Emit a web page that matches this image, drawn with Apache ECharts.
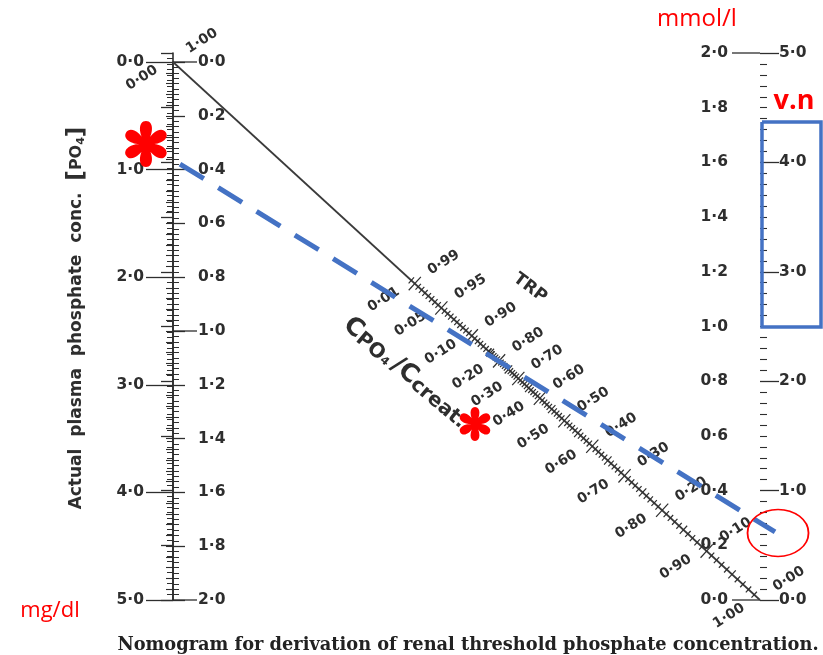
<!DOCTYPE html>
<html><head><meta charset="utf-8">
<script src="https://cdn.jsdelivr.net/npm/echarts@6/dist/echarts.min.js"></script>
<style>html,body{margin:0;padding:0;background:#fff}#c{width:823px;height:655px}</style>
</head><body><div id="c"></div>
<script>
// ---------- scale definitions ----------
const mgRange = [0, 5];          // mg/dl scale (both outer scales)
const mmolRange = [0, 2];        // mmol/l scale (both outer scales)
const mgInterval = 1;
const mmolInterval = 0.2;
const leftMmolLeaders = [0, 1.0, 2.0];
const rightMmolLeaders = [0, 2.0];

// diagonal scale: TRP labels (CPO4/Ccreat = 1 - TRP on the other side)
const trpLabels = [0.99, 0.95, 0.90, 0.80, 0.70, 0.60, 0.50, 0.40, 0.30, 0.20, 0.10, 0.00];
const cornerTrpLabel = [1.00];   // printed at the origin of the diagonal
const trpMinorFine = [0.995,0.99,0.985,0.98,0.975,0.97,0.965,0.96,0.955,0.95,0.945,0.94,0.935,0.93,0.925,0.92,0.915,0.91,0.905,0.90,0.895,0.89,0.885,0.88,0.875,0.87,0.865];
const trpMinorCoarse = [];
for (let i = 86; i >= 1; i--) trpMinorCoarse.push(i / 100);
const diagLine = [[0, 0], [1, 5]];

// annotations (nomogram coordinates: x = 0 at left scale, 1 at right scale; y = mg/dl on left scale)
const dashedLine = [[0.0119, 0.948], [1.0256, 4.368]];
const boxCorners = [[1.0034, 0.5576], [1.1039, 0.5576], [1.1039, 2.4628], [1.0034, 2.4628], [1.0034, 0.5576]];
const bigStar = [[-0.046, 0.762]];
const smallStar = [[0.5145, 3.364]];
const circleMark = [[1.0307, 4.377]];
const annotXRange = [-0.25, 1.15];

// ---------- helpers ----------
const dot1 = v => (Math.round(v * 10) / 10).toFixed(1).replace('.', '·');
const dot2 = v => (Math.round(v * 100) / 100).toFixed(2).replace('.', '·');
function scalePos(trp) {
  if (trp >= 1) return 0;
  const a = trp > 0.86 ? 0.3 * trp / (1 - 0.8 * trp) : trp;
  return 1 / (1 + a);
}
function starPath() {
  const parts = [];
  const w = 0.34;
  const pts = [[0,0],[-w,-0.42],[-w*1.05,-1],[0,-1],[w*1.05,-1],[w,-0.42],[0,0]];
  for (let k = 0; k < 6; k++) {
    const t = k * Math.PI / 3, c = Math.cos(t), s = Math.sin(t);
    const r = pts.map(p => [(p[0]*c - p[1]*s)*50 + 50, (p[0]*s + p[1]*c)*50 + 50].map(n => n.toFixed(2)).join(' '));
    parts.push('M' + r[0] + ' C' + r[1] + ' ' + r[2] + ' ' + r[3] + ' C' + r[4] + ' ' + r[5] + ' ' + r[6] + ' Z');
  }
  return 'path://' + parts.join(' ');
}

const INK = '#2e2e2e';
const LBL = {fontFamily: 'DejaVu Sans', fontWeight: 'bold', fontSize: 15.5, color: INK};
const axisLineStyle = {color: INK, width: 1.6};

const GL = 173, GW = 587;   // pixel frame of the nomogram
const chart = echarts.init(document.getElementById('c'), null, {renderer: 'canvas'});

function perp(api) {
  const a = api.coord([0, 0]), b = api.coord([1, 5]);
  const dx = b[0] - a[0], dy = b[1] - a[1], L = Math.hypot(dx, dy);
  return [dy / L, -dx / L];
}

const diagTickValues = trpMinorFine.concat(trpMinorCoarse);

const option = {
  backgroundColor: '#ffffff',
  animation: false,
  grid: [
    {left: GL, top: 62, width: GW, height: 538, outerBoundsMode: 'none', containLabel: false},
    {left: GL, top: 53, width: GW, height: 547, outerBoundsMode: 'none', containLabel: false},
    {left: GL + annotXRange[0] * GW, top: 62, width: (annotXRange[1] - annotXRange[0]) * GW, height: 538, outerBoundsMode: 'none', containLabel: false}
  ],
  xAxis: [
    {gridIndex: 0, type: 'value', min: 0, max: 1, show: false},
    {gridIndex: 1, type: 'value', min: 0, max: 1, show: false},
    {gridIndex: 2, type: 'value', min: annotXRange[0], max: annotXRange[1], show: false}
  ],
  yAxis: [
    { // left mg/dl
      gridIndex: 0, type: 'value', position: 'left', inverse: true,
      min: mgRange[0], max: mgRange[1], interval: mgInterval,
      axisLine: {show: true, lineStyle: axisLineStyle},
      axisTick: {show: true, length: 27, lineStyle: {color: INK, width: 1.3}},
      minorTick: {show: true, splitNumber: 10, length: 7, lineStyle: {color: INK, width: 1.1}},
      axisLabel: Object.assign({margin: 29, formatter: dot1}, LBL),
      splitLine: {show: false}, minorSplitLine: {show: false}
    },
    { // left mmol/l
      gridIndex: 0, type: 'value', position: 'left', inverse: true,
      min: mmolRange[0], max: mmolRange[1], interval: mmolInterval,
      axisLine: {show: false},
      axisTick: {show: true, inside: true, length: 12, lineStyle: {color: INK, width: 1.3}},
      minorTick: {show: true, splitNumber: 10, length: 6, lineStyle: {color: INK, width: 1}},
      axisLabel: Object.assign({inside: true, margin: 25, formatter: dot1}, LBL),
      splitLine: {show: false}, minorSplitLine: {show: false}
    },
    { // right mmol/l
      gridIndex: 1, type: 'value', position: 'right',
      min: mmolRange[0], max: mmolRange[1], interval: mmolInterval,
      axisLine: {show: true, lineStyle: axisLineStyle},
      axisTick: {show: true, inside: true, length: 12, lineStyle: {color: INK, width: 1.3}},
      minorTick: {show: true, splitNumber: 10, length: 6, lineStyle: {color: INK, width: 1}},
      axisLabel: Object.assign({inside: true, margin: 32, formatter: dot1}, LBL),
      splitLine: {show: false}, minorSplitLine: {show: false}
    },
    { // right mg/dl
      gridIndex: 1, type: 'value', position: 'right',
      min: mgRange[0], max: mgRange[1], interval: mgInterval,
      axisLine: {show: false},
      axisTick: {show: true, length: 19, lineStyle: {color: INK, width: 1.3}},
      minorTick: {show: true, splitNumber: 10, length: 7, lineStyle: {color: INK, width: 1.1}},
      axisLabel: Object.assign({margin: 19, formatter: dot1}, LBL),
      splitLine: {show: false}, minorSplitLine: {show: false}
    },
    { // annotation frame (hidden), same vertical mapping as left mg/dl scale
      gridIndex: 2, type: 'value', inverse: true, min: mgRange[0], max: mgRange[1], show: false
    }
  ],
  series: [
    {
      type: 'line', name: 'diagonal', xAxisIndex: 0, yAxisIndex: 0, data: diagLine,
      symbol: 'none', silent: true, lineStyle: {color: '#3a3a3a', width: 1.7}, z: 2
    },
    {
      type: 'custom', name: 'diagTicks', xAxisIndex: 0, yAxisIndex: 0, silent: true, z: 3,
      data: diagTickValues.map(v => [v]),
      renderItem: function (params, api) {
        const v = api.value(0), s = scalePos(v);
        const p = api.coord([s, 5 * s]);
        const n = perp(api);
        const r = Math.round(v * 1000);
        const isLab = trpLabels.some(t => Math.round(t * 1000) === r);
        const len = isLab ? 9 : (r % 50 === 0 ? 5.5 : 4);
        return {type: 'line', shape: {x1: p[0] - n[0]*len, y1: p[1] - n[1]*len, x2: p[0] + n[0]*len, y2: p[1] + n[1]*len},
          style: {stroke: INK, lineWidth: 1.2}};
      }
    },
    {
      type: 'custom', name: 'diagLabels', xAxisIndex: 0, yAxisIndex: 0, silent: true, z: 3,
      data: trpLabels.concat(cornerTrpLabel).map(v => [v]),
      renderItem: function (params, api) {
        const v = api.value(0), s = scalePos(v);
        const p = api.coord([s, 5 * s]);
        const rot = 32 * Math.PI / 180;
        const st = {fontFamily: 'DejaVu Sans', fontWeight: 'bold', fontSize: 14, fill: INK, align: 'center', verticalAlign: 'middle'};
        return {type: 'group', children: [
          {type: 'text', x: p[0] + 29, y: p[1] - 21, rotation: rot, style: Object.assign({text: dot2(v)}, st)},
          {type: 'text', x: p[0] - 31, y: p[1] + 16, rotation: rot, style: Object.assign({text: dot2(1 - v)}, st)}
        ]};
      }
    },
    {
      type: 'custom', name: 'leftLeaders', xAxisIndex: 0, yAxisIndex: 1, silent: true,
      data: leftMmolLeaders.map(v => [0, v]),
      renderItem: function (params, api) {
        const p = api.coord([0, api.value(1)]);
        return {type: 'line', shape: {x1: p[0], y1: p[1], x2: p[0] + 24, y2: p[1]}, style: {stroke: INK, lineWidth: 1.3}};
      }
    },
    {
      type: 'custom', name: 'rightLeaders', xAxisIndex: 1, yAxisIndex: 2, silent: true,
      data: rightMmolLeaders.map(v => [1, v]),
      renderItem: function (params, api) {
        const p = api.coord([1, api.value(1)]);
        return {type: 'line', shape: {x1: p[0], y1: p[1], x2: p[0] - 28, y2: p[1]}, style: {stroke: INK, lineWidth: 1.3}};
      }
    },
    {
      type: 'line', name: 'dashed', xAxisIndex: 2, yAxisIndex: 4, data: dashedLine, clip: false,
      symbol: 'none', silent: true, z: 10,
      lineStyle: {color: '#4472C4', width: 5, type: [28, 17], cap: 'butt'}
    },
    {
      type: 'line', name: 'box', xAxisIndex: 2, yAxisIndex: 4, data: boxCorners, clip: false,
      symbol: 'none', silent: true, z: 10,
      lineStyle: {color: '#4472C4', width: 3.5, join: 'miter'}
    },
    {
      type: 'scatter', name: 'bigStar', xAxisIndex: 2, yAxisIndex: 4, data: bigStar, clip: false, silent: true,
      symbol: starPath(), symbolSize: 46, symbolKeepAspect: true, itemStyle: {color: '#ff0000', opacity: 1}, z: 12
    },
    {
      type: 'scatter', name: 'smallStar', xAxisIndex: 2, yAxisIndex: 4, data: smallStar, clip: false, silent: true,
      symbol: starPath(), symbolSize: 34, symbolKeepAspect: true, itemStyle: {color: '#ff0000', opacity: 1}, z: 12
    },
    {
      type: 'scatter', name: 'circle', xAxisIndex: 2, yAxisIndex: 4, data: circleMark, clip: false, silent: true,
      symbol: 'circle', symbolSize: [61, 47],
      itemStyle: {color: 'rgba(0,0,0,0)', borderColor: '#ff0000', borderWidth: 1.6, opacity: 1}, z: 12
    }
  ],
  graphic: [
    {type: 'text', x: 77, y: 318, rotation: Math.PI / 2, silent: true,
      style: {text: '{a|Actual  plasma  phosphate  conc.  }{b|[}{c|PO}{d|4}{b|]}', align: 'center', verticalAlign: 'middle',
        rich: {
          a: {fontFamily: 'DejaVu Sans', fontWeight: 'bold', fontSize: 17, fill: INK},
          b: {fontFamily: 'DejaVu Sans', fontWeight: 'bold', fontSize: 23, fill: INK},
          c: {fontFamily: 'DejaVu Sans', fontWeight: 'bold', fontSize: 16, fill: INK},
          d: {fontFamily: 'DejaVu Sans', fontWeight: 'bold', fontSize: 11, fill: INK, padding: [9, 0, 0, 0]}
        }}},
    {type: 'text', x: 530, y: 288, rotation: -37 * Math.PI / 180, silent: true,
      style: {text: 'TRP', align: 'center', verticalAlign: 'middle', fontFamily: 'DejaVu Sans', fontWeight: 'bold', fontSize: 17, fill: INK}},
    {type: 'text', x: 406, y: 372, rotation: -40 * Math.PI / 180, silent: true,
      style: {text: '{c|C}{s|PO₄} {c|/C}{s|creat.}', align: 'center', verticalAlign: 'middle',
        rich: {
          c: {fontFamily: 'DejaVu Sans', fontWeight: 'bold', fontSize: 25, fill: INK},
          s: {fontFamily: 'DejaVu Sans', fontWeight: 'bold', fontSize: 20, fill: INK, padding: [7, 0, 0, 0]}
        }}},
    {type: 'text', x: 468, y: 645, silent: true,
      style: {text: 'Nomogram for derivation of renal threshold phosphate concentration.', align: 'center', verticalAlign: 'middle',
        fontFamily: 'DejaVu Serif', fontWeight: 'bold', fontSize: 17.8, fill: '#222'}},
    {type: 'text', x: 697, y: 19, silent: true,
      style: {text: 'mmol/l', align: 'center', verticalAlign: 'middle', fontFamily: 'Open Sans', fontSize: 24, fill: '#ff0000'}},
    {type: 'text', x: 50, y: 611, silent: true,
      style: {text: 'mg/dl', align: 'center', verticalAlign: 'middle', fontFamily: 'Open Sans', fontSize: 22, fill: '#ff0000'}},
    {type: 'text', x: 794, y: 101, silent: true,
      style: {text: 'v.n', align: 'center', verticalAlign: 'middle', fontFamily: 'Open Sans', fontWeight: 'bold', fontSize: 27, fill: '#ff0000'}}
  ]
};
chart.setOption(option);
</script>
</body></html>
